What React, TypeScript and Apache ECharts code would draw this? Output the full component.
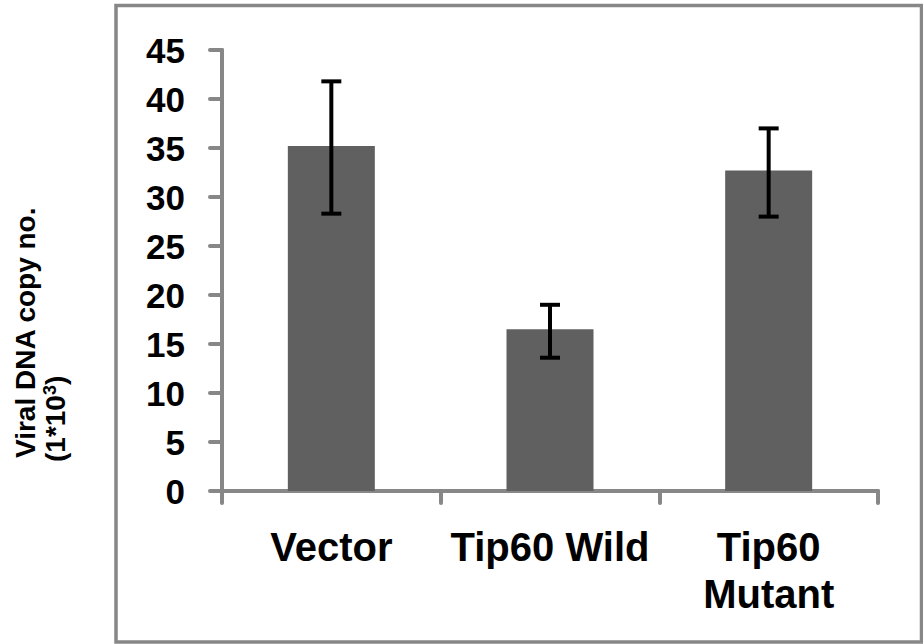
import React, { useEffect, useRef } from "react";
import * as echarts from "echarts";

const categories = ["Vector", "Tip60 Wild", "Tip60\nMutant"];
const means = [35.2, 16.5, 32.7];
const lows = [28.3, 13.6, 28.0];
const highs = [41.8, 19.0, 37.0];
const yTicks = { min: 0, max: 45, interval: 5 };

const FONT = "'Liberation Sans', Arial, Helvetica, sans-serif";
const AXIS_GRAY = "#878787";

export default function App() {
  const ref = useRef<HTMLDivElement>(null);
  useEffect(() => {
    if (!ref.current) return;
    const chart = echarts.init(ref.current, null, { renderer: "svg" });
    const errorData = categories.map((_, i) => [i, lows[i], highs[i]]);
    chart.setOption({
      animation: false,
      backgroundColor: "#ffffff",
      grid: { left: 222, right: 45, top: 50, bottom: 153 },
      xAxis: {
        type: "category",
        data: categories,
        boundaryGap: true,
        axisLine: { lineStyle: { color: AXIS_GRAY, width: 4, cap: "round" } },
        axisTick: {
          show: true,
          alignWithLabel: false,
          length: 12,
          lineStyle: { color: AXIS_GRAY, width: 4, cap: "round" },
        },
        axisLabel: {
          color: "#000",
          fontFamily: FONT,
          fontWeight: "bold",
          fontSize: 40,
          lineHeight: 47,
          margin: 32,
          interval: 0,
        },
        splitLine: { show: false },
      },
      yAxis: {
        type: "value",
        min: yTicks.min,
        max: yTicks.max,
        interval: yTicks.interval,
        axisLine: { show: true, lineStyle: { color: AXIS_GRAY, width: 4, cap: "round" } },
        axisTick: {
          show: true,
          length: 12,
          lineStyle: { color: AXIS_GRAY, width: 4, cap: "round" },
        },
        axisLabel: {
          color: "#000",
          fontFamily: FONT,
          fontWeight: "bold",
          fontSize: 35,
          margin: 37,
          padding: [8, 0, 0, 0],
        },
        splitLine: { show: false },
      },
      series: [
        {
          type: "bar",
          data: means,
          barWidth: 87,
          itemStyle: { color: "#606060" },
          z: 2,
        },
        {
          type: "custom",
          data: errorData,
          encode: { x: 0, y: [1, 2] },
          z: 3,
          renderItem: (params: any, api: any) => {
            const idx = api.value(0);
            const lo = api.coord([idx, api.value(1)]);
            const hi = api.coord([idx, api.value(2)]);
            const half = 10;
            const style = { stroke: "#000", lineWidth: 4, fill: "none" };
            return {
              type: "group",
              children: [
                { type: "line", shape: { x1: lo[0], y1: lo[1], x2: hi[0], y2: hi[1] }, style },
                { type: "line", shape: { x1: hi[0] - half, y1: hi[1], x2: hi[0] + half, y2: hi[1] }, style },
                { type: "line", shape: { x1: lo[0] - half, y1: lo[1], x2: lo[0] + half, y2: lo[1] }, style },
              ],
            };
          },
        },
      ],
      graphic: [
        {
          type: "rect",
          shape: { x: 116, y: 5.5, width: 805.5, height: 636.5 },
          style: { fill: "none", stroke: AXIS_GRAY, lineWidth: 3.5 },
          silent: true,
        },
        {
          type: "text",
          x: 25,
          y: 458,
          rotation: Math.PI / 2,
          style: {
            text: "Viral DNA copy no.",
            fill: "#000",
            fontSize: 28,
            fontWeight: "bold",
            fontFamily: FONT,
            align: "left",
            verticalAlign: "middle",
          },
        },
        {
          type: "text",
          x: 55,
          y: 462,
          rotation: Math.PI / 2,
          style: {
            text: "(1*10{sup|3})",
            fill: "#000",
            fontSize: 28,
            fontWeight: "bold",
            fontFamily: FONT,
            align: "left",
            verticalAlign: "middle",
            rich: {
              sup: {
                fontSize: 18,
                fontWeight: "bold",
                fontFamily: FONT,
                fill: "#000",
                verticalAlign: "top",
              },
            },
          },
        },
      ],
    });
    return () => chart.dispose();
  }, []);
  return (
    <div
      ref={ref}
      style={{ position: "fixed", left: 0, top: 0, width: 923, height: 644, background: "#fff" }}
    />
  );
}
